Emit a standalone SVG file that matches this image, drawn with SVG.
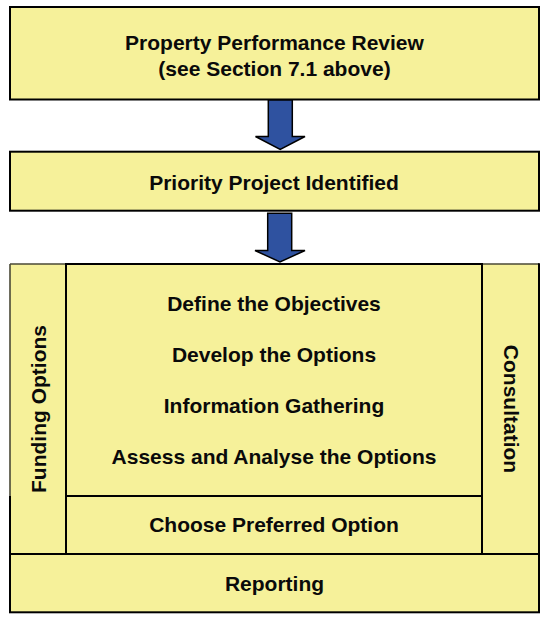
<svg xmlns="http://www.w3.org/2000/svg" width="541" height="619" viewBox="0 0 541 619">
  <style>
    .box { fill: #F6F19A; stroke: #000; stroke-width: 2; }
    .fill { fill: #F6F19A; stroke: none; }
    .line { stroke: #000; stroke-width: 2; fill: none; }
    .faint { stroke: #4a4936; stroke-width: 1.6; fill: none; }
    .lbl { font-family: "Liberation Sans", Arial, sans-serif; font-weight: bold; font-size: 21px; fill: #0a0a0a; text-anchor: middle; }
    .arrow { fill: #2F52A0; stroke: #000; stroke-width: 1.5; stroke-linejoin: miter; }
  </style>
  <rect width="541" height="619" fill="#fff"/>

  <g id="node-review">
    <rect class="box" x="10" y="7" width="529" height="92.5"/>
    <text class="lbl" x="274.5" y="49.5">Property Performance Review</text>
    <text class="lbl" x="274.5" y="75.8">(see Section 7.1 above)</text>
  </g>

  <g id="node-priority">
    <rect class="box" x="10" y="151.7" width="529" height="59"/>
    <text class="lbl" x="274" y="190">Priority Project Identified</text>
  </g>

  <g id="node-process-bg">
    <rect class="fill" x="10" y="264" width="529" height="348.3"/>
  </g>

  <g id="node-funding">
    <line class="faint" x1="10" y1="264" x2="10" y2="496"/>
    <line class="faint" x1="10" y1="264" x2="66" y2="264"/>
    <text class="lbl" transform="translate(45.5,409) rotate(-90)">Funding Options</text>
  </g>

  <g id="node-consultation">
    <line class="faint" x1="482" y1="264" x2="539" y2="264"/>
    <line class="line" x1="539" y1="263.2" x2="539" y2="554"/>
    <text class="lbl" transform="translate(503.5,409) rotate(90)">Consultation</text>
  </g>

  <g id="node-analysis">
    <polyline class="line" points="66,554 66,264 482,264 482,554"/>
    <line class="line" x1="66" y1="496" x2="482" y2="496"/>
    <text class="lbl" x="274" y="310.8">Define the Objectives</text>
    <text class="lbl" x="274" y="361.8">Develop the Options</text>
    <text class="lbl" x="274" y="412.8">Information Gathering</text>
    <text class="lbl" x="274" y="463.5">Assess and Analyse the Options</text>
  </g>

  <g id="node-choose">
    <polyline class="line" points="10,496 10,554"/>
    <text class="lbl" x="274" y="532">Choose Preferred Option</text>
  </g>

  <g id="node-reporting">
    <rect class="box" x="10" y="554" width="529" height="58.3"/>
    <text class="lbl" x="274.5" y="591">Reporting</text>
  </g>

  <g id="connectors">
    <polygon class="arrow" points="268.3,100 292.3,100 292.3,136.5 305,136.5 280.2,149.5 255.5,136.5 268.3,136.5"/>
    <polygon class="arrow" points="267.7,213.3 291.7,213.3 291.7,250.5 305,250.5 280,262 255,250.5 267.7,250.5"/>
  </g>
</svg>
